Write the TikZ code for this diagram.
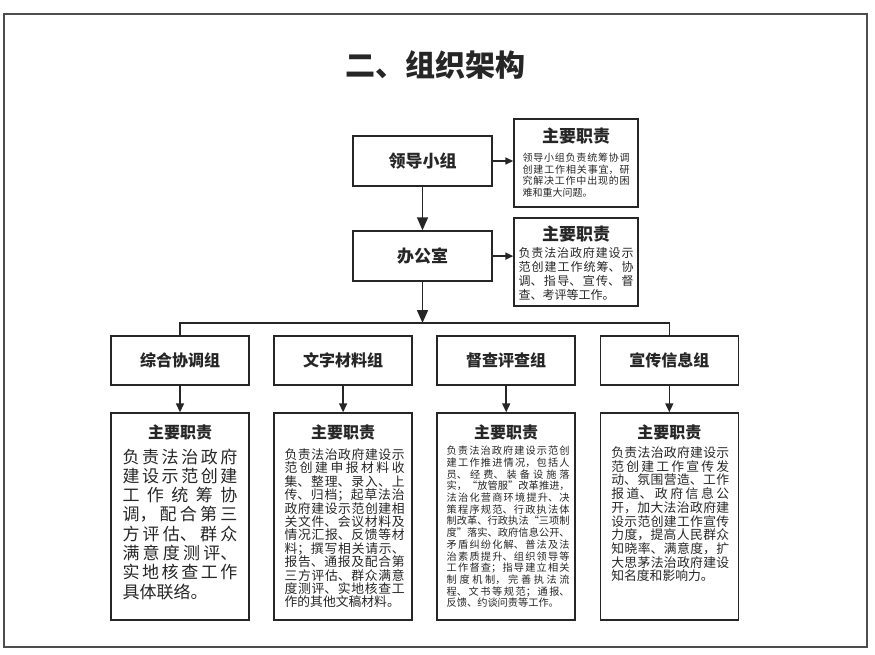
\documentclass[tikz,border=0pt]{standalone}
\usepackage{fontspec}
\setmainfont{Noto Sans CJK SC}
\usepackage{tikz}
\usetikzlibrary{arrows.meta,positioning}
\usepackage{xcolor}
\definecolor{orgInk}{HTML}{262626}
\definecolor{orgFrame}{HTML}{4D4D4D}
\XeTeXlinebreaklocale "zh"
\XeTeXlinebreakskip=0pt plus 12pt
\newcommand{\dutysize}[2]{\fontsize{#1}{#2}\selectfont\lineskiplimit=-20pt}

\begin{document}
\begin{tikzpicture}[x=1pt,y=-1pt,>={Triangle[width=11pt,length=13pt]},line width=1.6pt,draw=orgInk]
  \tikzstyle{orgbox}=[draw=orgInk,line width=1.6pt,minimum width=139pt,minimum height=50pt,text=orgInk,font=\fontsize{17pt}{20pt}\selectfont\bfseries]
  \tikzstyle{groupbox}=[orgbox,minimum width=138pt,minimum height=49pt,font=\fontsize{16pt}{19pt}\selectfont\bfseries]
  \tikzstyle{dutybox}=[draw=orgInk,line width=1.6pt,minimum width=138pt,minimum height=207pt]
  \tikzstyle{sidebox}=[dutybox,minimum width=124pt,minimum height=88pt]
  \tikzstyle{dutyhead}=[inner sep=0pt,text=orgInk,font=\fontsize{16pt}{19pt}\selectfont\bfseries]
  \tikzstyle{dutybody}=[anchor=north,align=justify,inner sep=0pt,text=orgInk]
  \tikzstyle{sidearrow}=[->,>={Triangle[width=7pt,length=8pt]}]
  \tikzstyle{downarrow}=[->,>={Triangle[width=8pt,length=9pt]}]

  \useasboundingbox (0,0) rectangle (875,655);
  \draw[orgFrame,line width=1.4pt] (4,14) rectangle (867,647);
  \node[text=orgInk,font=\fontsize{30pt}{34pt}\selectfont\bfseries] (title) at (435,65) {二、组织架构};

  % leadership and office
  \node[orgbox] (lingdao) at (422.5,161) {领导小组};
  \node[orgbox,below=43.5pt of lingdao] (bangong) {办公室};
  \node[sidebox,right=20.5pt of lingdao,yshift=-2pt] (lingdaoduty) {};
  \node[sidebox,right=20.5pt of bangong,yshift=-6pt] (bangongduty) {};
  \node[dutyhead,font=\fontsize{17pt}{20pt}\selectfont\bfseries] (headlingdao) at ([yshift=-18pt]lingdaoduty.north) {主要职责};
  \node[dutybody,text width=107pt,font=\dutysize{10pt}{11.7pt}] (lingdaotext) at ([yshift=-34pt]lingdaoduty.north) {领导小组负责统筹协调\linebreak 创建工作相关事宜，研\linebreak 究解决工作中出现的困\linebreak 难和重大问题。};
  \node[dutyhead,font=\fontsize{17pt}{20pt}\selectfont\bfseries] (headbangong) at ([yshift=-17pt]bangongduty.north) {主要职责};
  \node[dutybody,text width=115pt,font=\dutysize{12pt}{14pt}] (bangongtext) at ([yshift=-29pt]bangongduty.north) {负责法治政府建设示\linebreak 范创建工作统筹、协\linebreak 调、指导、宣传、督\linebreak 查、考评等工作。};

  % working groups
  \coordinate (branch) at (422.5,323);
  \node[groupbox] (zonghe) at (180,360.5) {综合协调组};
  \node[groupbox,right=23.5pt of zonghe] (wenzi) {文字材料组};
  \node[groupbox,right=23.5pt of wenzi] (ducha) {督查评查组};
  \node[groupbox,right=23.5pt of ducha] (xuanchuan) {宣传信息组};
  \foreach \g in {zonghe,wenzi,ducha,xuanchuan}{
    \node[dutybox,below=26.5pt of \g] (\g duty) {};
    \node[dutyhead] (head\g) at ([yshift=-20pt]\g duty.north) {主要职责};
  }
  \node[dutybody,text width=115pt,font=\dutysize{17pt}{19.3pt}] (zonghetext) at ([yshift=-35.5pt]zongheduty.north) {负责法治政府\linebreak 建设示范创建\linebreak 工作统筹协\linebreak 调，配合第三\linebreak 方评估、群众\linebreak 满意度测评、\linebreak 实地核查工作\linebreak 具体联络。};
  \node[dutybody,text width=120pt,font=\dutysize{12.8pt}{13.4pt}] (wenzitext) at ([xshift=1.5pt,yshift=-35.6pt]wenziduty.north) {负责法治政府建设示\linebreak 范创建申报材料收\linebreak 集、整理、录入、上\linebreak 传、归档；起草法治\linebreak 政府建设示范创建相\linebreak 关文件、会议材料及\linebreak 情况汇报、反馈等材\linebreak 料；撰写相关请示、\linebreak 报告、通报及配合第\linebreak 三方评估、群众满意\linebreak 度测评、实地核查工\linebreak 作的其他文稿材料。};
  \node[dutybody,text width=123pt,font=\dutysize{10.2pt}{11.7pt}] (duchatext) at ([xshift=2pt,yshift=-33pt]duchaduty.north) {负责法治政府建设示范创\linebreak 建工作推进情况，包括人\linebreak 员、经费、装备设施落\linebreak 实，“放管服”改革推进，\linebreak 法治化营商环境提升、决\linebreak 策程序规范、行政执法体\linebreak 制改革、行政执法“三项制\linebreak 度”落实、政府信息公开、\linebreak 矛盾纠纷化解、普法及法\linebreak 治素质提升、组织领导等\linebreak 工作督查；指导建立相关\linebreak 制度机制，完善执法流\linebreak 程、文书等规范；通报、\linebreak 反馈、约谈问责等工作。};
  \node[dutybody,text width=118pt,font=\dutysize{12.8pt}{13.7pt}] (xuanchuantext) at ([xshift=1pt,yshift=-33.6pt]xuanchuanduty.north) {负责法治政府建设示\linebreak 范创建工作宣传发\linebreak 动、氛围营造、工作\linebreak 报道、政府信息公\linebreak 开，加大法治政府建\linebreak 设示范创建工作宣传\linebreak 力度，提高人民群众\linebreak 知晓率、满意度，扩\linebreak 大思茅法治政府建设\linebreak 知名度和影响力。};

  % connectors
  \draw[->] (lingdao) -- (bangong);
  \draw[sidearrow] (lingdao.east) -- (lingdao.east -| lingdaoduty.west);
  \draw[sidearrow] (bangong.east) -- (bangong.east -| bangongduty.west);
  \draw[->] (bangong) -- (branch);
  \draw (zonghe.north) |- (branch) -| (xuanchuan.north);
  \foreach \g in {zonghe,wenzi,ducha,xuanchuan}{\draw[downarrow] (\g) -- (\g duty);}
\end{tikzpicture}
\end{document}
